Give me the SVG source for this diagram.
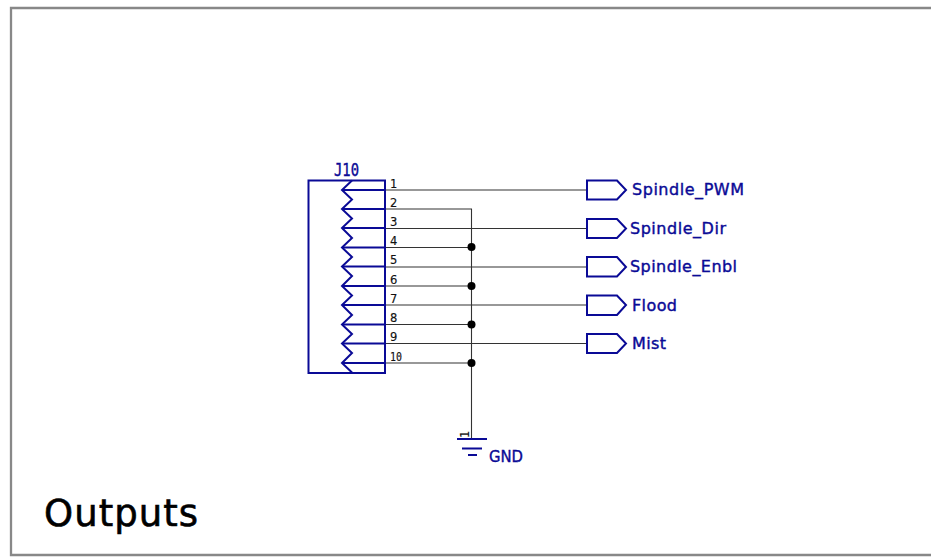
<svg xmlns="http://www.w3.org/2000/svg" width="931" height="557" viewBox="0 0 931 557">
<style>
.wire{fill:none;stroke:#333;stroke-width:1.1}
.sym{fill:none;stroke:#0a0a96;stroke-width:2}
.dot{fill:#000}
text{font-family:"DejaVu Sans","Liberation Sans",sans-serif}
.lbl{fill:#0a0a96;stroke:#0a0a96;stroke-width:.4px;font-size:16px}
.pin{fill:#111;stroke:#111;stroke-width:.15px;font-size:11.500px}
.mono{font-family:"DejaVu Sans Mono","Liberation Mono",monospace}
</style>
<rect width="931" height="557" fill="#fff"/>
<path d="M931 8H11V555H931" fill="none" stroke="#888" stroke-width="2.300"/>
<g id="wires" class="connectors">
<path class="wire" d="M385 190H587M385 209H471.500V438M385 228.500H587M385 247.500H471.500M385 267H587M385 286H471.500M385 305H587M385 324.500H471.500M385 343.500H587M385 363H471.500"/>
<circle class="dot" cx="471.500" cy="247" r="4"/>
<circle class="dot" cx="471.500" cy="286" r="4"/>
<circle class="dot" cx="471.500" cy="324.500" r="4"/>
<circle class="dot" cx="471.500" cy="363" r="4"/>
</g>
<g id="J10">
<rect class="sym" x="308.500" y="180.500" width="76.500" height="192.500"/>
<path class="sym" d="M352 180.500L342 190L352 199.500L342 209L352 218.500L342 228L352 238L342 247.500L352 257L342 266.500L352 276L342 286L352 295.500L342 305L352 315L342 324.500L352 334L342 343.500L352 353L342 363L352 372.500"/>
<path class="sym" d="M342 190H385M342 209H385M342 228H385M342 247.500H385M342 266.500H385M342 286H385M342 305H385M342 324.500H385M342 343.500H385M342 363H385"/>
<text class="lbl mono" x="334" y="176" textLength="25" lengthAdjust="spacingAndGlyphs" style="font-size:17px">J10</text>
<text class="pin" x="390" y="188">1</text>
<text class="pin" x="390" y="207">2</text>
<text class="pin" x="390" y="226">3</text>
<text class="pin" x="390" y="245">4</text>
<text class="pin" x="390" y="264">5</text>
<text class="pin" x="390" y="284">6</text>
<text class="pin" x="390" y="303">7</text>
<text class="pin" x="390" y="322">8</text>
<text class="pin" x="390" y="341">9</text>
<text class="pin mono" x="390" y="361" textLength="12" lengthAdjust="spacingAndGlyphs">10</text>
</g>
<g id="port-spindle-pwm"><path class="sym" d="M587 180.500H617L626 190L617 199.500H587Z"/><text class="lbl" x="632" y="195" textLength="112" lengthAdjust="spacing">Spindle_PWM</text></g>
<g id="port-spindle-dir"><path class="sym" d="M587 219H617L626 228.500L617 238H587Z"/><text class="lbl" x="630" y="234" textLength="96" lengthAdjust="spacing">Spindle_Dir</text></g>
<g id="port-spindle-enbl"><path class="sym" d="M587 257H617L626 267L617 276.500H587Z"/><text class="lbl" x="630" y="272" textLength="107" lengthAdjust="spacing">Spindle_Enbl</text></g>
<g id="port-flood"><path class="sym" d="M587 295.500H617L626 305L617 315H587Z"/><text class="lbl" x="632" y="311" textLength="45" lengthAdjust="spacing">Flood</text></g>
<g id="port-mist"><path class="sym" d="M587 334H617L626 343.500L617 353H587Z"/><text class="lbl" x="632" y="349" textLength="34" lengthAdjust="spacing">Mist</text></g>
<g id="GND">
<path class="sym" d="M457 439H487M462 448.500H482M468 455H477"/>
<text class="pin" transform="translate(469 438) rotate(-90)" x="0" y="0">1</text>
<text class="lbl" x="489" y="462" textLength="34" lengthAdjust="spacingAndGlyphs">GND</text>
</g>
<text id="title" x="44" y="526" fill="#000" stroke="#000" stroke-width=".6" font-size="37" textLength="154" lengthAdjust="spacing">Outputs</text>
</svg>
